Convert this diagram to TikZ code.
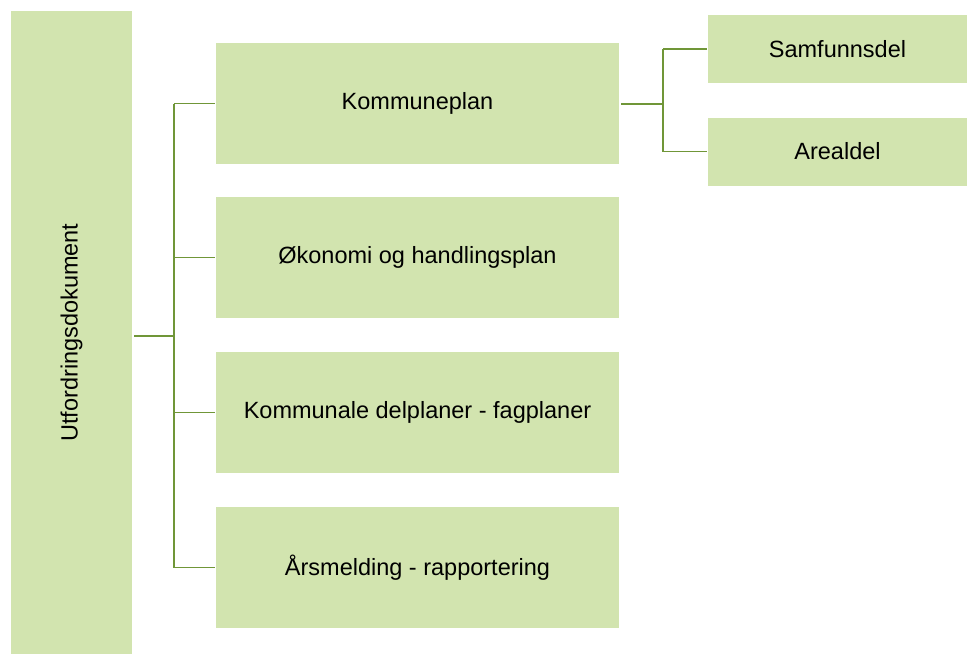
\documentclass[tikz,border=0pt]{standalone}
\usepackage{fontspec}
\setmainfont{Liberation Sans}
\definecolor{boxgreen}{RGB}{210,228,175}
\definecolor{linegreen}{RGB}{112,150,56}
\begin{document}
\begin{tikzpicture}[x=1pt,y=-1pt,
        plan/.style={rectangle,fill=boxgreen,inner sep=0pt,
            minimum width=403pt,minimum height=121pt,
            font=\fontsize{23.5}{28}\selectfont},
        part/.style={plan,minimum width=259pt,minimum height=68pt},
        trunk/.style={draw=linegreen,line width=2.4pt},
        branch/.style={draw=linegreen,line width=1.6pt}]
    \useasboundingbox (0,0) rectangle (968,654);

    \node (utf) [plan,minimum width=643pt,minimum height=121pt,rotate=90]
        at (71.5,332.5) {Utfordringsdokument};

    \node (kp) [plan] at (417.5,103.5) {Kommuneplan};
    \node (ok) [plan] at (417.5,257.5) {Økonomi og handlingsplan};
    \node (kd) [plan] at (417.5,412.5) {Kommunale delplaner - fagplaner};
    \node (ar) [plan] at (417.5,567.5) {Årsmelding - rapportering};

    \node (sd) [part] at (837.5,49) {Samfunnsdel};
    \node (ad) [part] at (837.5,151.5) {Arealdel};

    % left tree
    \coordinate (j1) at (174,336);
    \draw[trunk] ([xshift=2pt]utf.south |- j1) -- (j1);
    \draw[trunk] (kp.west -| j1) -- (ar.west -| j1);
    \foreach \n in {kp,ok,kd,ar}
        \draw[branch] (\n.west -| j1) -- ([xshift=-1pt]\n.west);

    % kommuneplan parts
    \coordinate (j2) at (663,104);
    \draw[trunk] ([xshift=2pt]kp.east |- j2) -- (j2);
    \draw[branch] (sd.west -| j2) -- (ad.west -| j2);
    \foreach \n in {sd,ad}
        \draw[branch] (\n.west -| j2) -- ([xshift=-1pt]\n.west);
\end{tikzpicture}
\end{document}
